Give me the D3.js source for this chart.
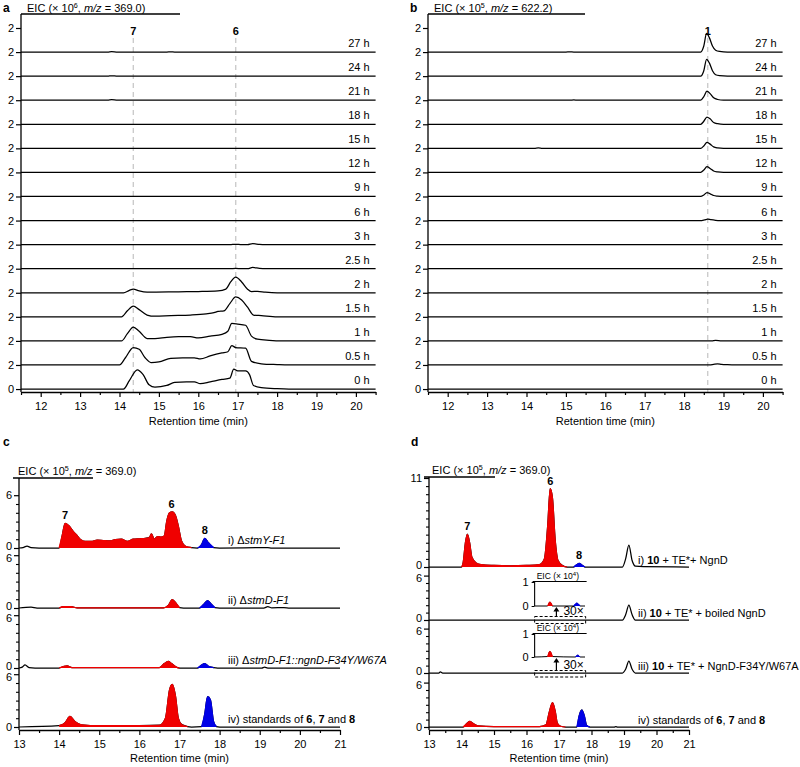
<!DOCTYPE html>
<html><head><meta charset="utf-8">
<script src="https://cdn.jsdelivr.net/npm/d3@7"></script>
<style>
body{margin:0;background:#fff}
svg{display:block}
text{font-family:"Liberation Sans",Arial,Helvetica,sans-serif;fill:#000}
</style></head>
<body><svg id="chart" width="800" height="767"></svg>
<script>
// ---------------- DATA ----------------
const timeLabels = ["27 h","24 h","21 h","18 h","15 h","12 h","9 h","6 h","3 h","2.5 h","2 h","1.5 h","1 h","0.5 h","0 h"];
const abXTicks = [12,13,14,15,16,17,18,19,20];
const abXMinor = [11.5,12.5,13.5,14.5,15.5,16.5,17.5,18.5,19.5,20.5];
const cdXTicks = [13,14,15,16,17,18,19,20,21];
const cdXMinor = [13.5,14.5,15.5,16.5,17.5,18.5,19.5,20.5];

// panel a: EIC (x10^6, m/z 369.0), one trace per time point
const aTraces = [
 [[11.5,0],[13.7,0],[13.8,0.04],[13.95,0],[15.2,0],[15.3,0.02],[15.4,0],[20.5,0]],
 [[11.5,0],[13.7,0],[13.8,0.03],[13.95,0],[20.5,0]],
 [[11.5,0],[13.7,0],[13.8,0.04],[13.95,0],[20.5,0]],
 [[11.5,0],[20.5,0]],
 [[11.5,0],[20.5,0]],
 [[11.5,0],[20.5,0]],
 [[11.5,0],[20.5,0]],
 [[11.5,0],[20.5,0]],
 [[11.5,0],[16.8,0],[16.95,0.03],[17.1,0],[17.25,0],[17.38,0.08],[17.55,0.02],[17.7,0],[20.5,0]],
 [[11.5,0],[16.8,0],[16.95,0.03],[17.1,0],[17.25,0],[17.38,0.1],[17.55,0.03],[17.7,0],[20.5,0]],
 [[11.5,0],[14.1,0],[14.25,0.2],[14.35,0.3],[14.5,0.15],[14.7,0.05],[15.5,0.08],[16.0,0.1],[16.5,0.15],[16.7,0.3],[16.82,0.9],[16.95,1.3],[17.1,0.9],[17.25,0.3],[17.35,0.1],[17.5,0.12],[17.7,0.05],[18.0,0],[20.5,0]],
 [[11.5,0],[14.05,0],[14.2,0.5],[14.35,0.9],[14.5,0.6],[14.7,0.15],[14.9,0.05],[15.3,0.1],[15.8,0.15],[16.2,0.25],[16.4,0.35],[16.5,0.45],[16.65,0.5],[16.8,1.1],[16.95,1.65],[17.1,1.4],[17.25,0.8],[17.4,0.15],[17.6,0.1],[18.0,0],[20.5,0]],
 [[11.5,0],[14.05,0],[14.2,0.6],[14.35,1.15],[14.5,0.8],[14.7,0.2],[14.9,0.2],[15.2,0.3],[15.5,0.35],[15.8,0.35],[16.0,0.25],[16.3,0.4],[16.6,0.55],[16.75,0.8],[16.85,1.45],[17.0,1.4],[17.2,1.3],[17.35,0.4],[17.5,0.15],[17.8,0.05],[18.1,0],[20.5,0]],
 [[11.5,0],[14.0,0],[14.15,0.6],[14.35,1.45],[14.5,1.3],[14.65,0.6],[14.8,0.2],[15.0,0.25],[15.3,0.55],[15.6,0.6],[15.9,0.6],[16.05,0.5],[16.3,0.75],[16.6,1.0],[16.75,1.1],[16.85,1.6],[16.95,1.45],[17.2,1.4],[17.35,0.3],[17.6,0.1],[18.0,0.03],[18.3,0],[20.5,0]],
 [[11.5,0],[14.1,0],[14.25,0.7],[14.45,1.6],[14.6,1.2],[14.75,0.35],[14.9,0.15],[15.2,0.3],[15.4,0.55],[15.7,0.6],[15.9,0.6],[16.05,0.45],[16.3,0.6],[16.6,0.8],[16.8,0.9],[16.9,1.65],[17.0,1.5],[17.2,1.5],[17.3,1.2],[17.4,0.3],[17.6,0.12],[18.0,0.03],[18.3,0],[20.5,0]]
];
const aMarks = [{label:"7", t:14.35},{label:"6", t:16.95}];

// panel b: EIC (x10^5, m/z 622.2)
const bTraces = [
 [[11.5,0],[15.0,0],[15.1,0.02],[15.2,0],[18.42,0],[18.5,0.5],[18.57,1.55],[18.64,1.2],[18.72,0.5],[18.8,0.15],[18.9,0.05],[19.1,0],[20.5,0]],
 [[11.5,0],[18.42,0],[18.5,0.45],[18.57,1.4],[18.64,1.1],[18.72,0.45],[18.8,0.12],[18.9,0.04],[19.1,0],[20.5,0]],
 [[11.5,0],[15.1,0],[15.2,0.02],[15.3,0],[18.42,0],[18.5,0.3],[18.58,0.75],[18.66,0.55],[18.75,0.2],[18.85,0.06],[19.0,0],[20.5,0]],
 [[11.5,0],[18.42,0],[18.5,0.25],[18.58,0.6],[18.66,0.45],[18.75,0.15],[18.85,0.05],[19.0,0],[20.5,0]],
 [[11.5,0],[14.2,0],[14.3,0.03],[14.4,0],[18.42,0],[18.5,0.2],[18.58,0.5],[18.66,0.35],[18.75,0.12],[18.85,0.04],[19.0,0],[20.5,0]],
 [[11.5,0],[18.42,0],[18.5,0.2],[18.58,0.48],[18.66,0.33],[18.75,0.12],[18.85,0.04],[19.0,0],[20.5,0]],
 [[11.5,0],[18.42,0],[18.5,0.12],[18.58,0.33],[18.66,0.22],[18.75,0.08],[18.85,0.03],[19.0,0],[20.5,0]],
 [[11.5,0],[18.45,0],[18.52,0.05],[18.6,0.12],[18.68,0.07],[18.8,0.02],[18.9,0],[20.5,0]],
 [[11.5,0],[20.5,0]],
 [[11.5,0],[20.5,0]],
 [[11.5,0],[20.5,0]],
 [[11.5,0],[20.5,0]],
 [[11.5,0],[18.7,0],[18.8,0.04],[18.95,0],[20.5,0]],
 [[11.5,0],[18.65,0],[18.75,0.05],[18.85,0.09],[18.95,0.05],[19.1,0.02],[19.3,0],[20.5,0]],
 [[11.5,0],[20.5,0]]
];
const bMarks = [{label:"1", t:18.6}];

// panel c: EIC (x10^5, m/z 369.0), strains
const cLabels = [
 [["i) \u0394",""],["stmY-F1","i"]],
 [["ii) \u0394",""],["stmD-F1","i"]],
 [["iii) \u0394",""],["stmD-F1::ngnD-F34Y/W67A","i"]],
 [["iv) standards of ",""],["6","b"],[", ",""],["7","b"],[" and ",""],["8","b"]]
];
const cTraces = [
 [[13,0],[13.1,0.05],[13.2,0.2],[13.3,0.05],[13.5,0],[14.0,0],[14.08,1.5],[14.15,2.8],[14.25,2.5],[14.35,1.9],[14.45,1.4],[14.55,0.9],[14.65,0.75],[14.8,0.75],[14.95,0.9],[15.1,0.85],[15.25,0.8],[15.4,0.95],[15.55,1.0],[15.7,0.75],[15.85,1.0],[16.0,1.05],[16.15,1.1],[16.25,1.2],[16.3,1.6],[16.37,1.0],[16.45,1.3],[16.55,1.25],[16.62,1.35],[16.68,3.0],[16.75,4.0],[16.82,4.1],[16.9,3.7],[16.97,2.5],[17.05,0.8],[17.15,0.2],[17.3,0.05],[17.45,0],[17.55,0.4],[17.63,1.1],[17.72,0.6],[17.85,0.05],[18.0,0],[19.2,0.05],[19.3,0],[21,0]],
 [[13,0],[13.3,0.1],[13.45,0],[14.0,0],[14.1,0.15],[14.3,0.15],[14.45,0.02],[16.6,0.02],[16.72,0.3],[16.82,0.95],[16.92,0.5],[17.0,0.05],[17.1,0],[17.5,0],[17.6,0.4],[17.7,0.85],[17.8,0.4],[17.88,0.05],[18.0,0],[19.1,0],[19.2,0.15],[19.3,0.02],[19.6,0.05],[19.75,0],[21,0]],
 [[13,0],[13.08,0.1],[13.15,0.35],[13.25,0.05],[13.4,0],[14.0,0],[14.1,0.15],[14.2,0.25],[14.32,0.05],[16.5,0.05],[16.62,0.5],[16.72,0.75],[16.8,0.5],[16.95,0.05],[17.0,0],[17.45,0],[17.55,0.35],[17.63,0.5],[17.72,0.2],[17.85,0.05],[17.95,0],[19.05,0],[19.12,0.1],[19.2,0],[21,0]],
 [[13,0],[14.0,0.15],[14.15,0.5],[14.27,1.2],[14.4,0.6],[14.55,0.25],[15.0,0.15],[16.0,0.15],[16.5,0.2],[16.65,1.0],[16.75,4.2],[16.82,4.85],[16.9,3.5],[16.97,1.0],[17.05,0.3],[17.2,0.05],[17.3,0],[17.55,0.05],[17.63,1.5],[17.7,3.45],[17.77,3.1],[17.85,0.6],[17.92,0.05],[18.0,0],[21,0]]
];
const cRed = [[14.0,17.35],[14.0,17.05],[14.0,17.0],[14.0,17.25]];
const cBlue = [[17.45,17.92],[17.5,17.9],[17.45,17.9],[17.55,17.95]];
const cMarks = [{label:"7",t:14.15,v:2.8},{label:"6",t:16.8,v:4.1},{label:"8",t:17.63,v:1.1}];

// panel d: EIC (x10^5, m/z 369.0), in vitro assays
const dLabels = [
 [["i) ",""],["10","b"],[" + TE*+ NgnD",""]],
 [["ii) ",""],["10","b"],[" + TE* + boiled NgnD",""]],
 [["iii) ",""],["10","b"],[" + TE* + NgnD-F34Y/W67A",""]],
 [["iv) standards of ",""],["6","b"],[", ",""],["7","b"],[" and ",""],["8","b"]]
];
const dTraces = [
 [[13,0],[14.0,0],[14.05,0.5],[14.12,3.0],[14.18,4.05],[14.25,3.0],[14.32,1.2],[14.45,0.5],[14.6,0.3],[15.0,0.2],[15.5,0.15],[16.0,0.2],[16.4,0.3],[16.55,1.0],[16.65,5.0],[16.73,9.7],[16.8,8.5],[16.88,3.5],[16.97,0.8],[17.1,0.2],[17.25,0],[17.45,0],[17.55,0.3],[17.62,0.45],[17.7,0.25],[17.8,0],[18.95,0],[19.05,1.0],[19.15,2.7],[19.25,0.8],[19.35,0.1],[19.6,0.05],[21,0]],
 [[13,0],[18.95,0],[19.05,0.7],[19.15,2.0],[19.25,0.7],[19.35,0],[21,0]],
 [[13,0],[13.3,0],[13.35,0.15],[13.42,0],[18.95,0],[19.05,0.5],[19.15,1.6],[19.25,0.5],[19.35,0],[21,0]],
 [[13,0],[14.05,0],[14.15,0.4],[14.25,0.75],[14.35,0.5],[14.5,0.15],[15.0,0.05],[16.4,0.05],[16.6,0.3],[16.7,2.0],[16.8,3.3],[16.88,2.2],[16.95,0.5],[17.05,0.1],[17.2,0],[17.55,0],[17.62,1.5],[17.7,2.3],[17.78,1.5],[17.85,0.2],[17.95,0],[18.7,0],[18.75,0.05],[18.8,0],[21,0]]
];
const dRed = [[14.0,17.3],null,null,[14.0,17.2]];
const dBlue = [[17.45,17.85],null,null,[17.5,17.95]];
const dMarks = [{label:"7",t:14.18,v:4.05},{label:"6",t:16.73,v:9.7},{label:"8",t:17.62,v:0.45}];

// insets of panel d (x10^4, 30x)
const insetTraces = [
 [[16.25,0],[16.65,0],[16.72,0.17],[16.8,0],[17.45,0],[17.55,0.12],[17.65,0],[17.8,0]],
 [[16.25,0],[16.65,0.02],[16.72,0.25],[16.8,0.02],[17.5,0],[17.58,0.08],[17.65,0],[17.8,0]]
];
const insetRed = [[16.62,16.84],[16.62,16.84]];
const insetBlue = [[17.45,17.66],[17.5,17.66]];

// ---------------- DRAWING ----------------
const svg = d3.select("#chart");
const RED = "#f00000", BLUE = "#0000e6";

function richText(g, x, y, parts, size, anchor) {
  const t = g.append("text").attr("x", x).attr("y", y).attr("font-size", size)
    .attr("text-anchor", anchor || "start");
  parts.forEach(([s, st]) => {
    const sp = t.append("tspan").text(s);
    if (st === "i") sp.attr("font-style", "italic");
    if (st === "b") sp.attr("font-weight", "bold");
  });
  return t;
}
function eicTitle(g, x, y, exp, mz, size) {
  const t = g.append("text").attr("x", x).attr("y", y).attr("font-size", size);
  t.append("tspan").text("EIC (\u00d7 10");
  t.append("tspan").text(exp).attr("font-size", size * 0.65).attr("dy", -4);
  if (mz) {
    t.append("tspan").text(", ").attr("dy", 4);
    t.append("tspan").text("m/z").attr("font-style", "italic");
    t.append("tspan").text(" = " + mz + ")");
  } else {
    t.append("tspan").text(")").attr("dy", 4);
  }
}
function traceLine(g, pts, x, y, color, w) {
  const line = d3.line().x(d => x(d[0])).y(d => y(d[1])).curve(d3.curveMonotoneX);
  g.append("path").datum(pts).attr("d", line).attr("fill", "none")
    .attr("stroke", color).attr("stroke-width", w).attr("stroke-linejoin", "round");
}
function fillRange(g, pts, range, x, y, color, w) {
  if (!range) return;
  const sub = pts.filter(d => d[0] >= range[0] && d[0] <= range[1]);
  const area = d3.area().x(d => x(d[0])).y0(y(0)).y1(d => y(d[1])).curve(d3.curveMonotoneX);
  g.append("path").datum(sub).attr("d", area).attr("fill", color);
  traceLine(g, sub, x, y, color, w);
}
function xAxis(g, x, yPos, major, minor, labelY) {
  const ax = g.append("g").attr("transform", `translate(0,${yPos})`)
    .call(d3.axisBottom(x).tickValues(major).tickSize(5).tickSizeOuter(0).tickFormat(d3.format("d")));
  ax.select(".domain").attr("stroke-width", 1.3);
  ax.selectAll(".tick line").attr("stroke-width", 1.2);
  ax.selectAll("text").attr("font-size", 11).attr("font-family", null).attr("dy", "0.95em");
  const mn = g.append("g").attr("transform", `translate(0,${yPos})`)
    .call(d3.axisBottom(x).tickValues(minor).tickSize(3).tickSizeOuter(0).tickFormat(""));
  mn.select(".domain").remove();
  mn.selectAll(".tick line").attr("stroke-width", 1.2);
  const r = x.range();
  g.append("text").attr("x", (r[0] + r[1]) / 2).attr("y", labelY).attr("text-anchor", "middle")
    .attr("font-size", 11).text("Retention time (min)");
}
// nudge: vertical shift (px) applied to labels at the band top / band zero
function yTicks(g, y, xPos, major, minor, len, nudgeTop, nudgeZero) {
  const ax = g.append("g").attr("transform", `translate(${xPos},0)`)
    .call(d3.axisLeft(y).tickValues(major).tickSize(len || 5).tickFormat(d3.format("d")));
  ax.select(".domain").remove();
  ax.selectAll(".tick line").attr("stroke-width", 1.2);
  ax.selectAll("text").attr("font-size", 11).attr("font-family", null).attr("x", -(len || 5) - 2)
    .attr("y", d => d === 0 ? (nudgeZero || 0) : (nudgeTop || 0));
  if (minor && minor.length) {
    const mn = g.append("g").attr("transform", `translate(${xPos},0)`)
      .call(d3.axisLeft(y).tickValues(minor).tickSize(3).tickFormat(""));
    mn.select(".domain").remove();
    mn.selectAll(".tick line").attr("stroke-width", 1.1);
  }
}
function vline(g, x, y1, y2, w) {
  g.append("line").attr("x1", x).attr("x2", x).attr("y1", y1).attr("y2", y2)
    .attr("stroke", "#000").attr("stroke-width", w || 1.3);
}
function hline(g, x1, x2, y, w) {
  g.append("line").attr("x1", x1).attr("x2", x2).attr("y1", y).attr("y2", y)
    .attr("stroke", "#000").attr("stroke-width", w || 1.3);
}

// ---- panels a and b (time course) ----
function timeCourse(letter, ox, traces, exp, mz, marks, lineEnd) {
  const g = svg.append("g");
  const x = d3.scaleLinear().domain([11.5, 20.5]).range([ox, ox + 354.6]);
  const bandH = 24.07, top0 = 28;
  g.append("text").attr("x", ox - 18).attr("y", 12).attr("font-size", 12).attr("font-weight", "bold").text(letter);
  eicTitle(g, ox + 6, 12, exp, mz, 11);
  hline(g, ox, ox + lineEnd, 14);
  vline(g, ox, 14, 392);
  marks.forEach(m => {
    g.append("line").attr("x1", x(m.t)).attr("x2", x(m.t)).attr("y1", 38).attr("y2", 392)
      .attr("stroke", "#c8c8c8").attr("stroke-width", 1.3).attr("stroke-dasharray", "5,4");
    g.append("text").attr("x", x(m.t)).attr("y", 35).attr("text-anchor", "middle")
      .attr("font-size", 11).attr("font-weight", "bold").text(m.label);
  });
  traces.forEach((pts, i) => {
    const y = d3.scaleLinear().domain([0, 2]).range([top0 + (i + 1) * bandH, top0 + i * bandH]);
    yTicks(g, y, ox, i === traces.length - 1 ? [0, 2] : [2], []);
    traceLine(g, pts, x, y, "#000", 1.25);
    g.append("text").attr("x", x(20.5) - 6).attr("y", y(0) - 5).attr("text-anchor", "end")
      .attr("font-size", 11).text(timeLabels[i]);
  });
  xAxis(g, x, 392, abXTicks, abXMinor, 425);
}
timeCourse("a", 21, aTraces, "6", "369.0", aMarks, 159);
timeCourse("b", 428, bTraces, "5", "622.2", bMarks, 157);

// ---- panel c ----
(function () {
  const g = svg.append("g");
  const x = d3.scaleLinear().domain([13, 21]).range([19, 340]);
  g.append("text").attr("x", 3).attr("y", 446).attr("font-size", 12).attr("font-weight", "bold").text("c");
  eicTitle(g, 18, 475, "5", "369.0", 11);
  hline(g, 13, 93, 478);
  vline(g, 19, 478, 730);
  const zeros = [548, 608, 668, 727];
  cTraces.forEach((pts, i) => {
    const y = d3.scaleLinear().domain([0, 6]).range([zeros[i], zeros[i] - 52.8]);
    yTicks(g, y, 19, [0, 6], [1, 2, 3, 4, 5], 5, i === 0 ? 0 : 2.5, i === cTraces.length - 1 ? 0 : -2.5);
    traceLine(g, pts, x, y, "#000", 1.25);
    fillRange(g, pts, cRed[i], x, y, RED, 1.2);
    fillRange(g, pts, cBlue[i], x, y, BLUE, 1.2);
    richText(g, 228, zeros[i] - 4, cLabels[i], 11);
    if (i === 0) {
      cMarks.forEach(m => g.append("text").attr("x", x(m.t)).attr("y", y(m.v) - 4)
        .attr("text-anchor", "middle").attr("font-size", 11).attr("font-weight", "bold").text(m.label));
    }
  });
  xAxis(g, x, 730, cdXTicks, cdXMinor, 762);
})();

// ---- panel d ----
(function () {
  const g = svg.append("g");
  const x = d3.scaleLinear().domain([13, 21]).range([429, 689]);
  g.append("text").attr("x", 411).attr("y", 446).attr("font-size", 12).attr("font-weight", "bold").text("d");
  eicTitle(g, 432, 474, "5", "369.0", 11);
  hline(g, 424, 495, 477);
  vline(g, 429, 477, 730);
  const zeros = [567, 620, 673, 727];
  const maxes = [11, 6, 6, 6];
  const pxu = [8.09, 7.4, 7.4, 7.4];
  dTraces.forEach((pts, i) => {
    const y = d3.scaleLinear().domain([0, maxes[i]]).range([zeros[i], zeros[i] - maxes[i] * pxu[i]]);
    yTicks(g, y, 429, [0, maxes[i]], d3.range(1, maxes[i]), 5, i === 0 ? 0 : 2.5, i === dTraces.length - 1 ? 0 : -2.5);
    traceLine(g, pts, x, y, "#000", 1.25);
    fillRange(g, pts, dRed[i], x, y, RED, 1.2);
    fillRange(g, pts, dBlue[i], x, y, BLUE, 1.2);
    richText(g, 638, zeros[i] - 3, dLabels[i], 11);
    if (i === 0) {
      dMarks.forEach(m => g.append("text").attr("x", x(m.t)).attr("y", y(m.v) - 4)
        .attr("text-anchor", "middle").attr("font-size", 11).attr("font-weight", "bold").text(m.label));
    }
  });
  // insets
  const insetZero = [606, 657];
  const insetTop = [582, 634];
  const boxY = [[616.5, 623.5], [670.5, 677]];
  insetTraces.forEach((pts, k) => {
    const y = d3.scaleLinear().domain([0, 1]).range([insetZero[k], insetTop[k]]);
    const x0 = x(16.25);
    const t = g.append("text").attr("x", x0 + 2).attr("y", insetTop[k] - 3).attr("font-size", 8.5);
    t.append("tspan").text("EIC (\u00d7 10");
    t.append("tspan").text("4").attr("font-size", 6).attr("dy", -3);
    t.append("tspan").text(")").attr("dy", 3);
    hline(g, x0 - 2, x(17.85), insetTop[k] - 0.5, 1.1);
    vline(g, x0, insetTop[k] - 0.5, insetZero[k], 1.1);
    const ax = g.append("g").attr("transform", `translate(${x0},0)`)
      .call(d3.axisLeft(y).tickValues([0, 1]).tickSize(3).tickFormat(d3.format("d")));
    ax.select(".domain").remove();
    ax.selectAll("text").attr("font-size", 11).attr("font-family", null);
    traceLine(g, pts, x, y, "#000", 1);
    fillRange(g, pts, insetRed[k], x, y, RED, 1);
    fillRange(g, pts, insetBlue[k], x, y, BLUE, 1);
    const ax0 = x(16.92);
    g.append("line").attr("x1", ax0).attr("x2", ax0).attr("y1", boxY[k][0] - 0.5).attr("y2", insetZero[k] + 5)
      .attr("stroke", "#000").attr("stroke-width", 1.2);
    g.append("path").attr("d", `M${ax0 - 3},${insetZero[k] + 5.5} L${ax0},${insetZero[k] + 1} L${ax0 + 3},${insetZero[k] + 5.5} Z`)
      .attr("fill", "#000");
    g.append("text").attr("x", ax0 + 7).attr("y", boxY[k][0] - 1.5).attr("font-size", 12).text("30\u00d7");
    g.append("rect").attr("x", x0).attr("y", boxY[k][0]).attr("width", x(17.82) - x0)
      .attr("height", boxY[k][1] - boxY[k][0]).attr("fill", "none").attr("stroke", "#000")
      .attr("stroke-width", 1).attr("stroke-dasharray", "3,2");
  });
  xAxis(g, x, 730, cdXTicks, cdXMinor, 762);
})();
</script></body></html>
